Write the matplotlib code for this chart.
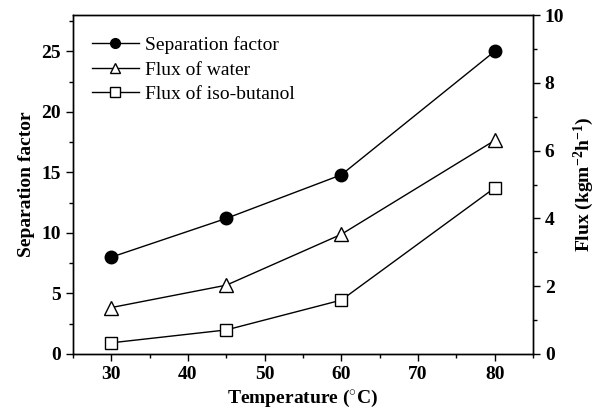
import matplotlib
matplotlib.use("Agg")
import matplotlib.pyplot as plt
from matplotlib.ticker import MultipleLocator

temperature = [30, 45, 60, 80]
separation_factor = [8.0, 11.2, 14.8, 25.0]
flux_water = [1.37, 2.03, 3.53, 6.3]
flux_isobutanol = [0.33, 0.71, 1.59, 4.9]

plt.rcParams['font.family'] = ['Liberation Serif', 'DejaVu Serif']
plt.rcParams['mathtext.fontset'] = 'custom'
plt.rcParams['mathtext.rm'] = 'Liberation Serif:bold'
plt.rcParams['mathtext.it'] = 'Liberation Serif:bold'
plt.rcParams['mathtext.bf'] = 'Liberation Serif:bold'

fig = plt.figure(figsize=(5.97, 4.12), dpi=100)
ax = fig.add_axes([73/597, 1-354/412, (533-73)/597, (354-15)/412])
ax2 = ax.twinx()

l1, = ax.plot(temperature, separation_factor, '-o', color='black', lw=1,
              ms=9, mfc='black', mec='black', label='Separation factor')
l2, = ax2.plot(temperature, flux_water, '-^', color='black', lw=1,
               ms=10, mfc='white', mec='black', mew=1, label='Flux of water')
l3, = ax2.plot(temperature, flux_isobutanol, '-s', color='black', lw=1,
               ms=8, mfc='white', mec='black', mew=1, label='Flux of iso-butanol')

ax.set_xlim(25, 85)
ax.set_ylim(0, 28)
ax2.set_ylim(0, 10)

ax.xaxis.set_major_locator(MultipleLocator(10))
ax.xaxis.set_minor_locator(MultipleLocator(5))
ax.yaxis.set_major_locator(MultipleLocator(5))
ax.yaxis.set_minor_locator(MultipleLocator(2.5))
ax2.yaxis.set_major_locator(MultipleLocator(2))
ax2.yaxis.set_minor_locator(MultipleLocator(1))

for a in (ax, ax2):
    a.tick_params(which='major', direction='out', length=5, width=1, labelsize=14)
    a.tick_params(which='minor', direction='out', length=3, width=1)
    for lab in a.get_xticklabels() + a.get_yticklabels():
        lab.set_fontweight('bold')
    for s in a.spines.values():
        s.set_linewidth(1)
ax.tick_params(top=False, right=False, which='both')
ax2.tick_params(left=False, which='both')

ax.set_xlabel('Temperature ($^{\\circ}$C)', fontsize=14, fontweight='bold', labelpad=4)
ax.set_ylabel('Separation factor', fontsize=14, fontweight='bold', labelpad=5)
ax2.set_ylabel('Flux (kgm$^{-2}$h$^{-1}$)', fontsize=14, fontweight='bold', labelpad=5)

leg = ax.legend(handles=[l1, l2, l3], loc='upper left', frameon=False,
                fontsize=14, handlelength=2.4, handletextpad=0.3,
                labelspacing=0.36, bbox_to_anchor=(0.012, 0.978), borderaxespad=0.3)
for h in leg.legend_handles:
    h.set_markersize(7)

fig.savefig('out.png', dpi=100)
